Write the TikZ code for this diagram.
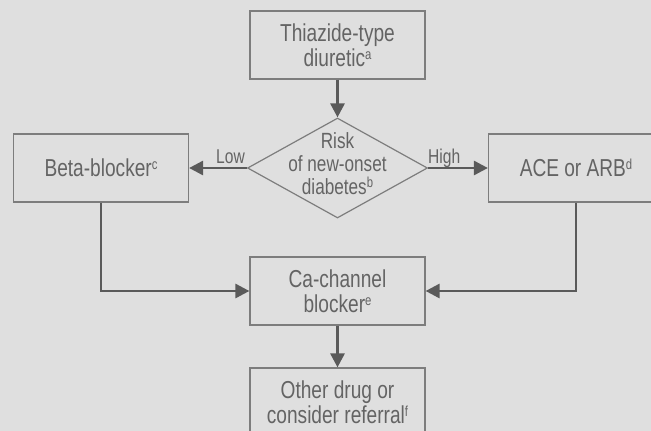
\documentclass[tikz,border=0pt]{standalone}
\usepackage{fontspec}
\setmainfont{Liberation Sans}[FakeStretch=0.78]
\usetikzlibrary{arrows.meta,shapes.geometric}
\definecolor{bg}{RGB}{223,223,223}
\definecolor{txt}{RGB}{100,100,100}
\definecolor{boxline}{RGB}{125,125,125}
\definecolor{arr}{RGB}{90,90,90}
\newcommand\supx[1]{\raisebox{7pt}{\fontsize{14.5}{14.5}\selectfont #1}}
\begin{document}
\begin{tikzpicture}[x=1pt,y=-1pt,
  box/.style={draw=boxline, line width=1.2pt, minimum width=175pt, minimum height=68pt, inner sep=0pt, text=txt, align=center, font=\fontsize{24.5}{25}\selectfont},
  arrowline/.style={draw=arr, line width=2.8pt, -{Triangle[length=14pt,width=14pt]}},
  lbl/.style={text=txt, font=\fontsize{20}{20}\selectfont, inner sep=0pt}]
\useasboundingbox (0,0) rectangle (651,431);
\fill[bg] (0,0) rectangle (651,431);
\clip (0,0) rectangle (651,431);
\node[box] (T) at (337.5,45) {Thiazide-type\\diuretic\supx{a}};
\node[diamond, draw=boxline, line width=1.2pt, minimum width=180pt, minimum height=100pt, inner sep=0pt] (D) at (337.5,168) {};
\node[text=txt, align=center, font=\fontsize{22}{23}\selectfont, inner sep=0pt] (Dt) at (337.5,164) {Risk\\of new-onset\\diabetes\supx{b}};
\node[box] (B) at (101,168) {Beta-blocker\supx{c}};
\node[box] (A) at (576,168) {ACE or ARB\supx{d}};
\node[box] (C) at (337.5,291) {Ca-channel\\blocker\supx{e}};
\node[box] (O) at (337.5,402) {Other drug or\\consider referral\supx{f}};
\draw[arrowline] (T.south) -- (D.north);
\draw[arrowline] (D.west) -- (B.east);
\draw[arrowline] (D.east) -- (A.west);
\draw[arrowline] (B.south) |- (C.west);
\draw[arrowline] (A.south) |- (C.east);
\draw[arrowline] (C.south) -- (O.north);
\node[lbl, anchor=base east] (low) at (245,163.5) {Low};
\node[lbl, anchor=base west] (high) at (428,163.5) {High};
\end{tikzpicture}
\end{document}
